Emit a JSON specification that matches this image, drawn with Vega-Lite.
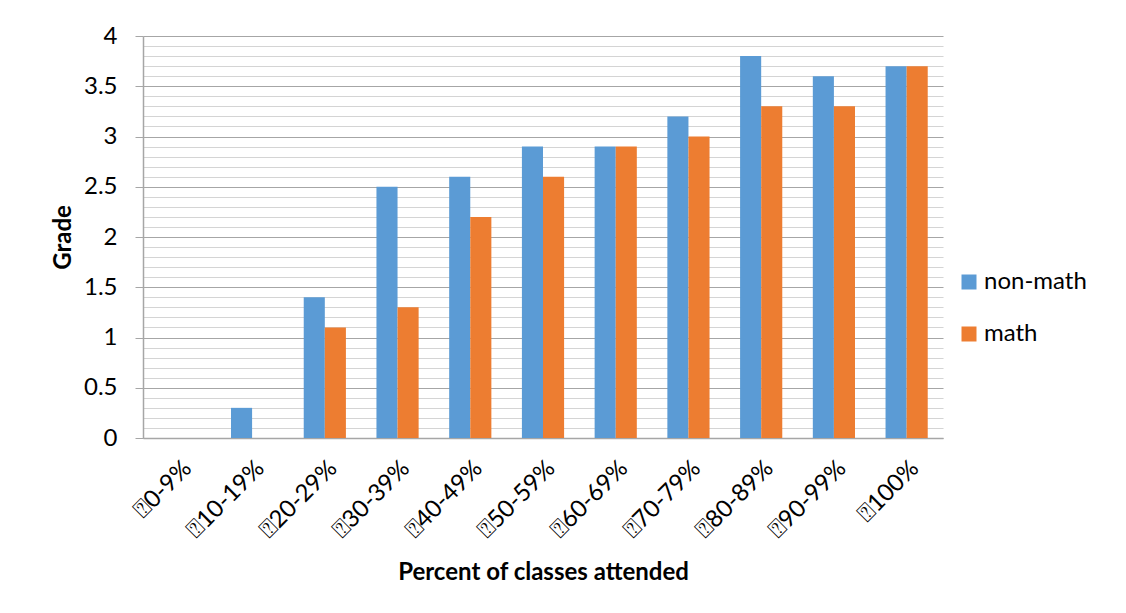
{
  "$schema": "https://vega.github.io/schema/vega-lite/v6.json",
  "autosize": {"type": "none"},
  "width": 800,
  "height": 402,
  "padding": {"left": 143, "top": 36, "right": 183, "bottom": 175},
  "background": "white",
  "config": {
    "font": "Lato",
    "view": {"stroke": null},
    "axis": {"labelColor": "#000", "titleColor": "#000", "labelFont": "Lato", "titleFont": "Lato"}
  },
  "data": {
    "values": [
      {"range": "⍰0-9%", "group": "non-math", "grade": 0},
      {"range": "⍰0-9%", "group": "math", "grade": 0},
      {"range": "⍰10-19%", "group": "non-math", "grade": 0.3},
      {"range": "⍰10-19%", "group": "math", "grade": 0},
      {"range": "⍰20-29%", "group": "non-math", "grade": 1.4},
      {"range": "⍰20-29%", "group": "math", "grade": 1.1},
      {"range": "⍰30-39%", "group": "non-math", "grade": 2.5},
      {"range": "⍰30-39%", "group": "math", "grade": 1.3},
      {"range": "⍰40-49%", "group": "non-math", "grade": 2.6},
      {"range": "⍰40-49%", "group": "math", "grade": 2.2},
      {"range": "⍰50-59%", "group": "non-math", "grade": 2.9},
      {"range": "⍰50-59%", "group": "math", "grade": 2.6},
      {"range": "⍰60-69%", "group": "non-math", "grade": 2.9},
      {"range": "⍰60-69%", "group": "math", "grade": 2.9},
      {"range": "⍰70-79%", "group": "non-math", "grade": 3.2},
      {"range": "⍰70-79%", "group": "math", "grade": 3.0},
      {"range": "⍰80-89%", "group": "non-math", "grade": 3.8},
      {"range": "⍰80-89%", "group": "math", "grade": 3.3},
      {"range": "⍰90-99%", "group": "non-math", "grade": 3.6},
      {"range": "⍰90-99%", "group": "math", "grade": 3.3},
      {"range": "⍰100%", "group": "non-math", "grade": 3.7},
      {"range": "⍰100%", "group": "math", "grade": 3.7}
    ]
  },
  "mark": {"type": "bar"},
  "encoding": {
    "x": {
      "field": "range",
      "type": "nominal",
      "sort": null,
      "scale": {"paddingInner": 0.42, "paddingOuter": 0.21},
      "axis": {
        "title": "Percent of classes attended",
        "titleFontSize": 24,
        "titleFontWeight": "bold",
        "titlePadding": 18,
        "labelAngle": -45,
        "labelFontSize": 24,
        "labelPadding": 18,
        "ticks": false,
        "domainColor": "#a6a6a6",
        "domainWidth": 1.5
      }
    },
    "xOffset": {"field": "group", "type": "nominal", "sort": ["non-math", "math"]},
    "y": {
      "field": "grade",
      "type": "quantitative",
      "scale": {"domain": [0, 4], "nice": false},
      "axis": {
        "title": "Grade",
        "titleFontSize": 24,
        "titleFontWeight": "bold",
        "titlePadding": 8,
        "values": [0, 0.1, 0.2, 0.3, 0.4, 0.5, 0.6, 0.7, 0.8, 0.9, 1, 1.1, 1.2, 1.3, 1.4, 1.5, 1.6, 1.7, 1.8, 1.9, 2, 2.1, 2.2, 2.3, 2.4, 2.5, 2.6, 2.7, 2.8, 2.9, 3, 3.1, 3.2, 3.3, 3.4, 3.5, 3.6, 3.7, 3.8, 3.9, 4],
        "format": "~g",
        "labelExpr": "round(datum.value * 10) % 5 == 0 ? datum.label : ''",
        "labelFontSize": 24,
        "labelPadding": 18,
        "tickSize": 8,
        "tickColor": "#a6a6a6",
        "tickOpacity": {"condition": {"test": "round(datum.value * 10) % 5 == 0", "value": 1}, "value": 0},
        "domainColor": "#a6a6a6",
        "domainWidth": 1.5,
        "grid": true,
        "gridColor": {"condition": {"test": "round(datum.value * 10) % 5 == 0", "value": "#a6a6a6"}, "value": "#d4d4d4"},
        "gridWidth": 1.2
      }
    },
    "color": {
      "field": "group",
      "type": "nominal",
      "sort": ["non-math", "math"],
      "scale": {"domain": ["non-math", "math"], "range": ["#5b9bd5", "#ed7d31"]},
      "legend": {
        "title": null,
        "orient": "none",
        "legendX": 814,
        "legendY": 234,
        "symbolType": "square",
        "symbolSize": 225,
        "symbolStrokeWidth": 0,
        "labelFontSize": 24,
        "labelFont": "Lato",
        "labelColor": "#000",
        "rowPadding": 28,
        "labelOffset": 3
      }
    }
  }
}
